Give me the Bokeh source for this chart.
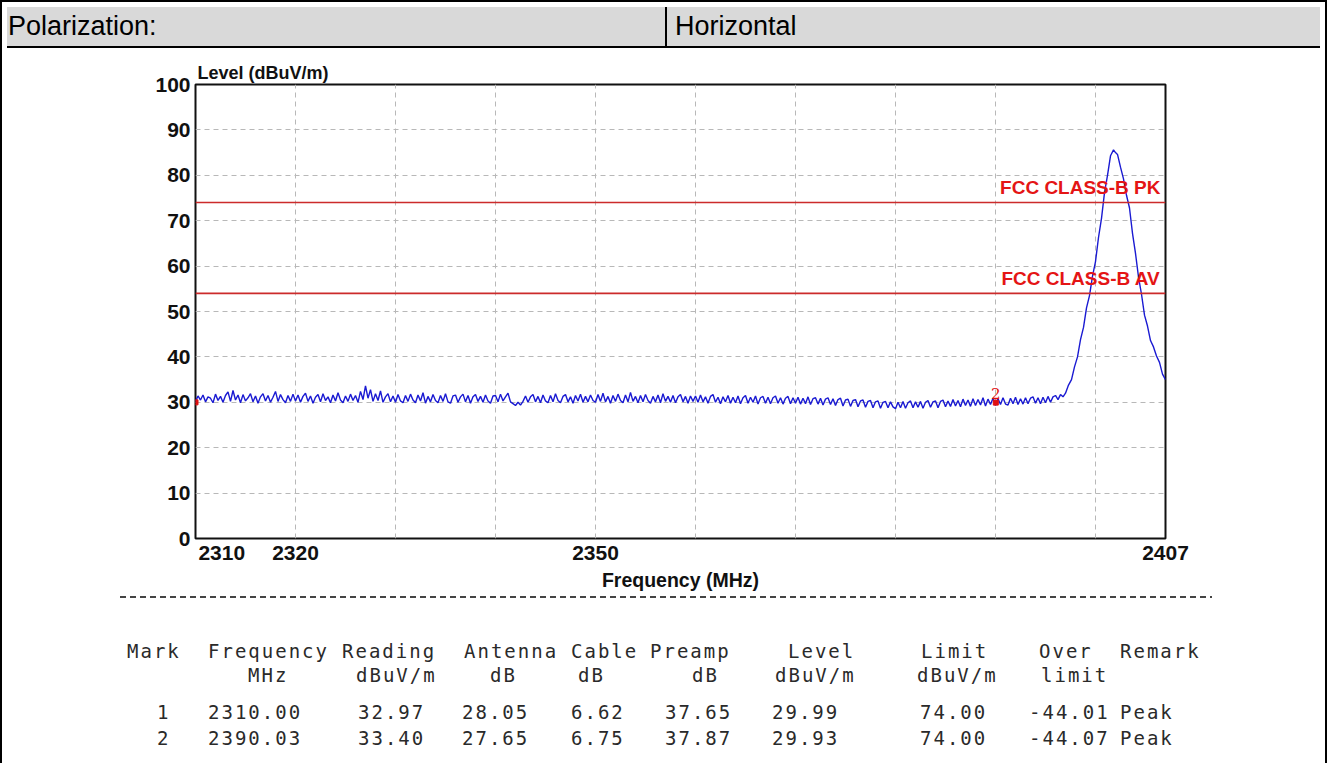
from bokeh.plotting import figure
from bokeh.models import Div, FixedTicker, Span, Label, ColumnDataSource
from bokeh.layouts import column
from bokeh.embed import file_html
from bokeh.resources import INLINE

# ---------------- data ----------------
polarization_label = "Polarization:"
polarization_value = "Horizontal"

x_min, x_max = 2310.0, 2407.0
y_min, y_max = 0, 100
x_tick_values = [2310, 2320, 2350, 2407]
x_grid_values = [2320, 2330, 2340, 2350, 2360, 2370, 2380, 2390, 2400]
y_tick_values = [0, 10, 20, 30, 40, 50, 60, 70, 80, 90, 100]
y_grid_values = [10, 20, 30, 40, 50, 60, 70, 80, 90]

# noise floor, sweep points every 0.25 MHz from 2310.00 to 2396.75
noise_start = 2310.0
noise_step = 0.25
noise_2310 = [30.2, 31.4, 30.5, 31.6, 30.1, 31.2, 30.9, 29.9, 31.8, 30.4, 31.3, 30.0, 31.5, 32.3, 30.2, 32.6, 30.5, 31.6, 29.9, 31.7,
              30.3, 31.0, 31.9, 30.1, 31.4, 29.8, 31.2, 31.9, 30.3, 31.5, 30.0, 31.1, 32.4, 30.2, 31.7, 30.6, 29.9, 31.5, 30.2, 31.8]
noise_2320 = [30.3, 31.6, 30.0, 31.3, 32.0, 30.2, 31.4, 29.8, 31.1, 31.7, 30.1, 31.9, 30.4, 31.2, 29.9, 31.6, 30.3, 32.1, 30.5, 29.9,
              31.4, 30.2, 31.8, 30.4, 31.5, 30.0, 32.4, 30.6, 33.6, 30.9, 32.8, 30.2, 31.9, 30.4, 32.5, 30.0, 31.2, 31.9, 30.1, 31.4]
noise_2330 = [30.0, 31.7, 30.3, 29.9, 31.5, 30.2, 31.8, 30.5, 29.9, 31.6, 30.3, 32.1, 29.8, 31.3, 30.1, 31.7, 30.4, 29.9, 31.5, 30.2,
              31.9, 30.1, 29.8, 31.4, 31.6, 30.0, 31.2, 31.8, 30.1, 31.5, 29.8, 31.2, 31.7, 30.2, 31.3, 30.0, 31.6, 30.3, 29.8, 31.4]
noise_2340 = [31.5, 30.1, 31.8, 30.3, 31.2, 32.0, 30.1, 29.7, 29.3, 30.0, 29.4, 30.2, 31.4, 30.0, 31.2, 31.7, 30.1, 31.3, 29.9, 31.6,
              30.3, 29.9, 31.5, 30.1, 31.9, 30.4, 29.9, 31.3, 31.7, 30.1, 31.2, 29.8, 31.5, 30.3, 31.8, 30.0, 31.3, 30.1, 31.6, 30.4]
noise_2350 = [30.0, 31.7, 30.2, 32.0, 30.1, 31.3, 29.8, 31.5, 30.2, 31.8, 30.4, 29.9, 31.6, 30.1, 32.2, 30.2, 31.3, 29.9, 31.5, 30.1,
              31.7, 30.4, 29.8, 31.3, 30.1, 31.6, 29.9, 31.9, 30.2, 31.3, 30.0, 31.5, 29.9, 31.2, 31.7, 30.1, 31.3, 29.8, 31.4, 30.2]
noise_2360 = [31.4, 30.0, 31.6, 30.1, 31.2, 29.8, 31.3, 31.7, 30.0, 31.1, 29.7, 31.2, 30.1, 31.5, 29.8, 31.1, 29.9, 31.4, 29.7, 31.0,
              31.5, 29.8, 31.1, 30.0, 31.4, 29.6, 31.0, 31.3, 29.8, 31.1, 29.7, 31.0, 31.4, 29.8, 31.0, 29.6, 30.9, 31.3, 29.7, 31.0]
noise_2370 = [29.8, 31.1, 29.6, 30.9, 29.7, 31.2, 29.5, 30.8, 31.0, 29.6, 30.9, 29.4, 30.7, 31.0, 29.5, 30.8, 29.3, 30.6, 30.9, 29.2,
              30.5, 30.7, 29.1, 30.4, 30.6, 29.0, 30.3, 30.5, 28.9, 30.2, 30.4, 28.8, 30.1, 30.3, 28.7, 30.0, 30.2, 28.8, 30.1, 29.0]
noise_2380 = [28.6, 30.0, 28.8, 30.2, 28.7, 29.9, 30.3, 28.8, 30.1, 28.9, 30.2, 28.7, 30.0, 30.4, 28.9, 30.1, 30.3, 28.8, 30.2, 30.5,
              29.0, 30.3, 29.1, 30.6, 29.2, 30.4, 29.0, 30.7, 29.3, 30.5, 29.1, 30.8, 29.3, 30.6, 29.4, 31.0, 29.2, 30.7, 29.5, 30.9]
noise_2390 = [29.3, 30.8, 29.5, 31.0, 29.6, 29.4, 30.9, 29.7, 31.1, 29.5, 30.8, 29.6, 31.0, 29.7, 30.9, 31.2, 29.8, 31.0, 29.7, 31.1,
              29.9, 31.3, 30.0, 31.2, 31.5, 30.6, 31.7, 31.2]

# emission peak near the band edge
peak_freqs = [2397.0, 2397.3, 2397.6, 2397.9, 2398.2, 2398.5, 2398.8, 2399.1, 2399.4, 2399.7,
              2400.0, 2400.3, 2400.6, 2400.9, 2401.2, 2401.5, 2401.8, 2402.0, 2402.2, 2402.5,
              2402.8, 2403.1, 2403.4, 2403.7, 2404.0, 2404.3, 2404.6, 2404.9, 2405.2, 2405.5,
              2405.8, 2406.1, 2406.4, 2406.7, 2407.0]
peak_levels = [32.0, 33.8, 35.0, 37.8, 40.0, 43.8, 46.5, 50.8, 53.5, 57.8,
               61.0, 66.3, 70.5, 76.2, 80.0, 84.3, 85.6, 85.0, 84.6, 81.8,
               79.2, 75.6, 72.8, 67.2, 62.8, 57.6, 53.8, 49.2, 46.8, 43.6,
               42.2, 40.2, 38.8, 36.2, 35.0]

limit_names = ["FCC CLASS-B PK", "FCC CLASS-B AV"]
limit_levels = [74.0, 54.0]

mark_ids = ["1", "2"]
mark_freqs = [2310.00, 2390.03]
mark_levels = [29.99, 29.93]

table_header_1 = ["Mark", "Frequency", "Reading", "Antenna", "Cable", "Preamp", "Level", "Limit", "Over", "Remark"]
table_header_2 = ["", "MHz", "dBuV/m", "dB", "dB", "dB", "dBuV/m", "dBuV/m", "limit", ""]
table_rows = [
    ["1", "2310.00", "32.97", "28.05", "6.62", "37.65", "29.99", "74.00", "-44.01", "Peak"],
    ["2", "2390.03", "33.40", "27.65", "6.75", "37.87", "29.93", "74.00", "-44.07", "Peak"],
]

# ---------------- build ----------------
noise_levels = (noise_2310 + noise_2320 + noise_2330 + noise_2340 + noise_2350 +
                noise_2360 + noise_2370 + noise_2380 + noise_2390)
noise_freqs = [noise_start + i * noise_step for i in range(len(noise_levels))]
trace_freqs = noise_freqs + peak_freqs
trace_levels = noise_levels + peak_levels

FONT = "Liberation Sans"
W = 1313

p = figure(frame_width=970, frame_height=454,
           min_border_left=193, min_border_right=150, min_border_top=31, min_border_bottom=66,
           x_range=(x_min, x_max), y_range=(y_min, y_max),
           output_backend="svg", toolbar_location=None,
           background_fill_color="white", border_fill_color="white")

p.outline_line_color = "#111111"
p.outline_line_width = 2

p.title.text = "Level (dBuV/m)"
p.title.align = "left"
p.title.offset = 2
p.title.standoff = 3
p.title.text_font = FONT
p.title.text_font_size = "18px"
p.title.text_font_style = "bold"
p.title.text_color = "#111111"

for ax in (p.xaxis[0], p.yaxis[0]):
    ax.axis_line_color = None
    ax.major_tick_line_color = None
    ax.minor_tick_line_color = None
    ax.major_tick_out = 0
    ax.major_tick_in = 0
    ax.minor_tick_out = 0
    ax.major_label_text_font = FONT
    ax.major_label_text_font_size = "21px"
    ax.major_label_text_font_style = "bold"
    ax.major_label_text_color = "#111111"
p.yaxis.major_label_standoff = 5
p.xaxis.major_label_standoff = 2

p.xaxis.ticker = FixedTicker(ticks=x_tick_values)
p.xaxis.major_label_overrides = {2310: "\u00a0" * 9 + "2310"}
p.yaxis.ticker = FixedTicker(ticks=y_tick_values)
p.xaxis.axis_label = "Frequency (MHz)"
p.xaxis.axis_label_text_font = FONT
p.xaxis.axis_label_text_font_size = "19.5px"
p.xaxis.axis_label_text_font_style = "bold"
p.xaxis.axis_label_text_color = "#111111"
p.xaxis.axis_label_standoff = 2

p.xgrid.ticker = FixedTicker(ticks=x_grid_values)
p.ygrid.ticker = FixedTicker(ticks=y_grid_values)
for g in (p.xgrid[0], p.ygrid[0]):
    g.grid_line_color = "#b8b8b8"
    g.grid_line_dash = "5 4"
    g.grid_line_width = 1

# limit lines
for name, lvl in zip(limit_names, limit_levels):
    p.add_layout(Span(location=lvl, dimension="width", line_color="#cc2b2b", line_width=1.6))
    p.add_layout(Label(x=x_max, y=lvl, text=name, text_align="right", text_baseline="alphabetic",
                       x_offset=-5, y_offset=15, text_color="#e41515", text_font=FONT,
                       text_font_size="19px", text_font_style="bold"))

# trace
src = ColumnDataSource(dict(f=trace_freqs, lvl=trace_levels))
p.line("f", "lvl", source=src, line_color="#1a1ad2", line_width=1.4)

# markers
msrc = ColumnDataSource(dict(f=mark_freqs, lvl=mark_levels, t=mark_ids))
p.scatter("f", "lvl", source=msrc, marker="square", size=5, fill_color="#e01010", line_color="#e01010")
p.add_layout(Label(x=mark_freqs[1], y=mark_levels[1], text=mark_ids[1], text_align="center",
                   text_baseline="bottom", y_offset=4, text_color="#e01010", text_font="DejaVu Serif",
                   text_font_size="15px"))

# header row
header_html = f"""
<div style="position:relative;width:{W}px;height:41px;background:#d9d9d9;border-bottom:2px solid #000;
box-sizing:border-box;font-family:'Liberation Sans',Arial,sans-serif;font-size:27px;color:#000;">
<div style="position:absolute;left:658px;top:0;width:2px;height:41px;background:#000;"></div>
<div style="position:absolute;left:1px;top:0;line-height:39px;">{polarization_label}</div>
<div style="position:absolute;left:668px;top:0;line-height:39px;">{polarization_value}</div>
</div>"""
header = Div(text=header_html, width=W, height=41)

# bottom table
col_x = [120, 201, 335, 457, 564, 643, 781, 914, 1032, 1113]
h2_x = [0, 241, 349, 483, 571, 685, 768, 910, 1034, 0]
row_x = [150, 201, 351, 455, 564, 658, 765, 913, 1022, 1113]
row_y = [42, 66, 103, 129]
cells = []
def cell(x, y, t):
    return (f'<div style="position:absolute;left:{x}px;top:{y - 12}px;line-height:24px;'
            f'white-space:pre;">{t}</div>')
for x, t in zip(col_x, table_header_1):
    cells.append(cell(x, row_y[0], t))
for x, t in zip(h2_x, table_header_2):
    if t:
        cells.append(cell(x, row_y[1], t))
for r, y in zip(table_rows, row_y[2:]):
    for x, t in zip(row_x, r):
        cells.append(cell(x, y, t))
table_html = f"""
<div style="position:relative;width:{W}px;height:150px;font-family:'DejaVu Sans Mono',monospace;
font-size:19px;letter-spacing:2px;color:#2a2a2a;">
<div style="position:absolute;left:113px;top:-13px;width:1092px;height:1.5px;
background:repeating-linear-gradient(to right,#444 0px,#444 6px,transparent 6px,transparent 10px);"></div>
{''.join(cells)}
</div>"""
table = Div(text=table_html, width=W, height=150)

layout = column(header, p, table, styles={"border": "2px solid #000"})

open("out.html", "w").write(file_html(layout, INLINE))
